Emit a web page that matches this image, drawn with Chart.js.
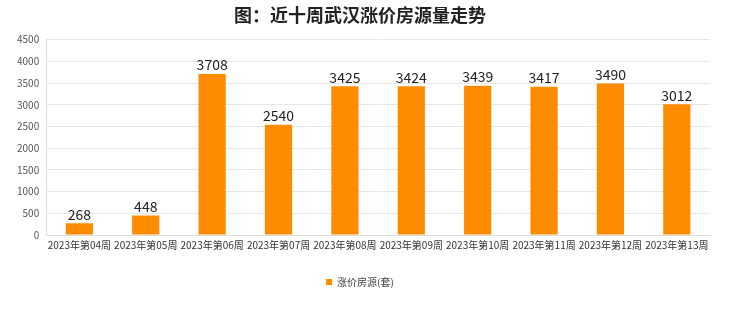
<!DOCTYPE html>
<html>
<head>
<meta charset="utf-8">
<script src="https://cdn.jsdelivr.net/npm/chart.js@4"></script>
<style>
  html, body { margin: 0; padding: 0; background: #fff; }
  #wrap { width: 740px; height: 312px; }
</style>
</head>
<body>
<div id="wrap"><canvas id="houseChart"></canvas></div>
<script>
// Chart data
const weeks = ['2023年第04周', '2023年第05周', '2023年第06周', '2023年第07周', '2023年第08周',
               '2023年第09周', '2023年第10周', '2023年第11周', '2023年第12周', '2023年第13周'];
const riseCount = [268, 448, 3708, 2540, 3425, 3424, 3439, 3417, 3490, 3012];
const seriesName = '涨价房源(套)';
const chartTitle = '图：近十周武汉涨价房源量走势';

const fontFamily = '"Noto Sans CJK SC", "Noto Sans", sans-serif';

// Draw value above each bar
const valueLabels = {
    id: 'valueLabels',
    afterDatasetsDraw(chart) {
        const c = chart.ctx;
        const meta = chart.getDatasetMeta(0);
        c.save();
        c.font = '14px ' + fontFamily;
        c.fillStyle = '#222';
        c.textAlign = 'center';
        c.textBaseline = 'bottom';
        meta.data.forEach(function(bar, i) {
            c.fillText(String(riseCount[i]), bar.x, bar.y - 2);
        });
        c.restore();
    }
};

const ctx = document.getElementById('houseChart').getContext('2d');
new Chart(ctx, {
    type: 'bar',
    data: {
        labels: weeks,
        datasets: [{
            label: seriesName,
            data: riseCount,
            backgroundColor: '#FF8C00',
            barPercentage: 0.41,
            categoryPercentage: 1.0
        }]
    },
    options: {
        responsive: true,
        maintainAspectRatio: false,
        animation: false,
        layout: { padding: { left: 10, right: 30, top: 0, bottom: 15 } },
        plugins: {
            title: {
                display: true,
                text: chartTitle,
                color: '#222',
                font: { family: fontFamily, size: 18, weight: 'bold' },
                padding: { top: 4, bottom: 14 }
            },
            legend: {
                position: 'bottom',
                labels: {
                    boxWidth: 6,
                    boxHeight: 6,
                    color: '#444',
                    font: { family: fontFamily, size: 10 },
                    padding: 22
                }
            },
            tooltip: { enabled: false }
        },
        scales: {
            x: {
                grid: { display: false, drawTicks: false },
                border: { color: '#ddd' },
                ticks: {
                    color: '#333',
                    font: { family: fontFamily, size: 10 },
                    maxRotation: 0,
                    autoSkip: false,
                    padding: 4
                }
            },
            y: {
                min: 0,
                max: 4500,
                grid: { color: '#e6e6e6', drawTicks: false },
                border: { color: '#ddd' },
                ticks: {
                    stepSize: 500,
                    color: '#555',
                    font: { family: fontFamily, size: 10 },
                    padding: 7,
                    callback: function(v) { return String(v); }
                }
            }
        }
    },
    plugins: [valueLabels]
});
</script>
</body>
</html>
